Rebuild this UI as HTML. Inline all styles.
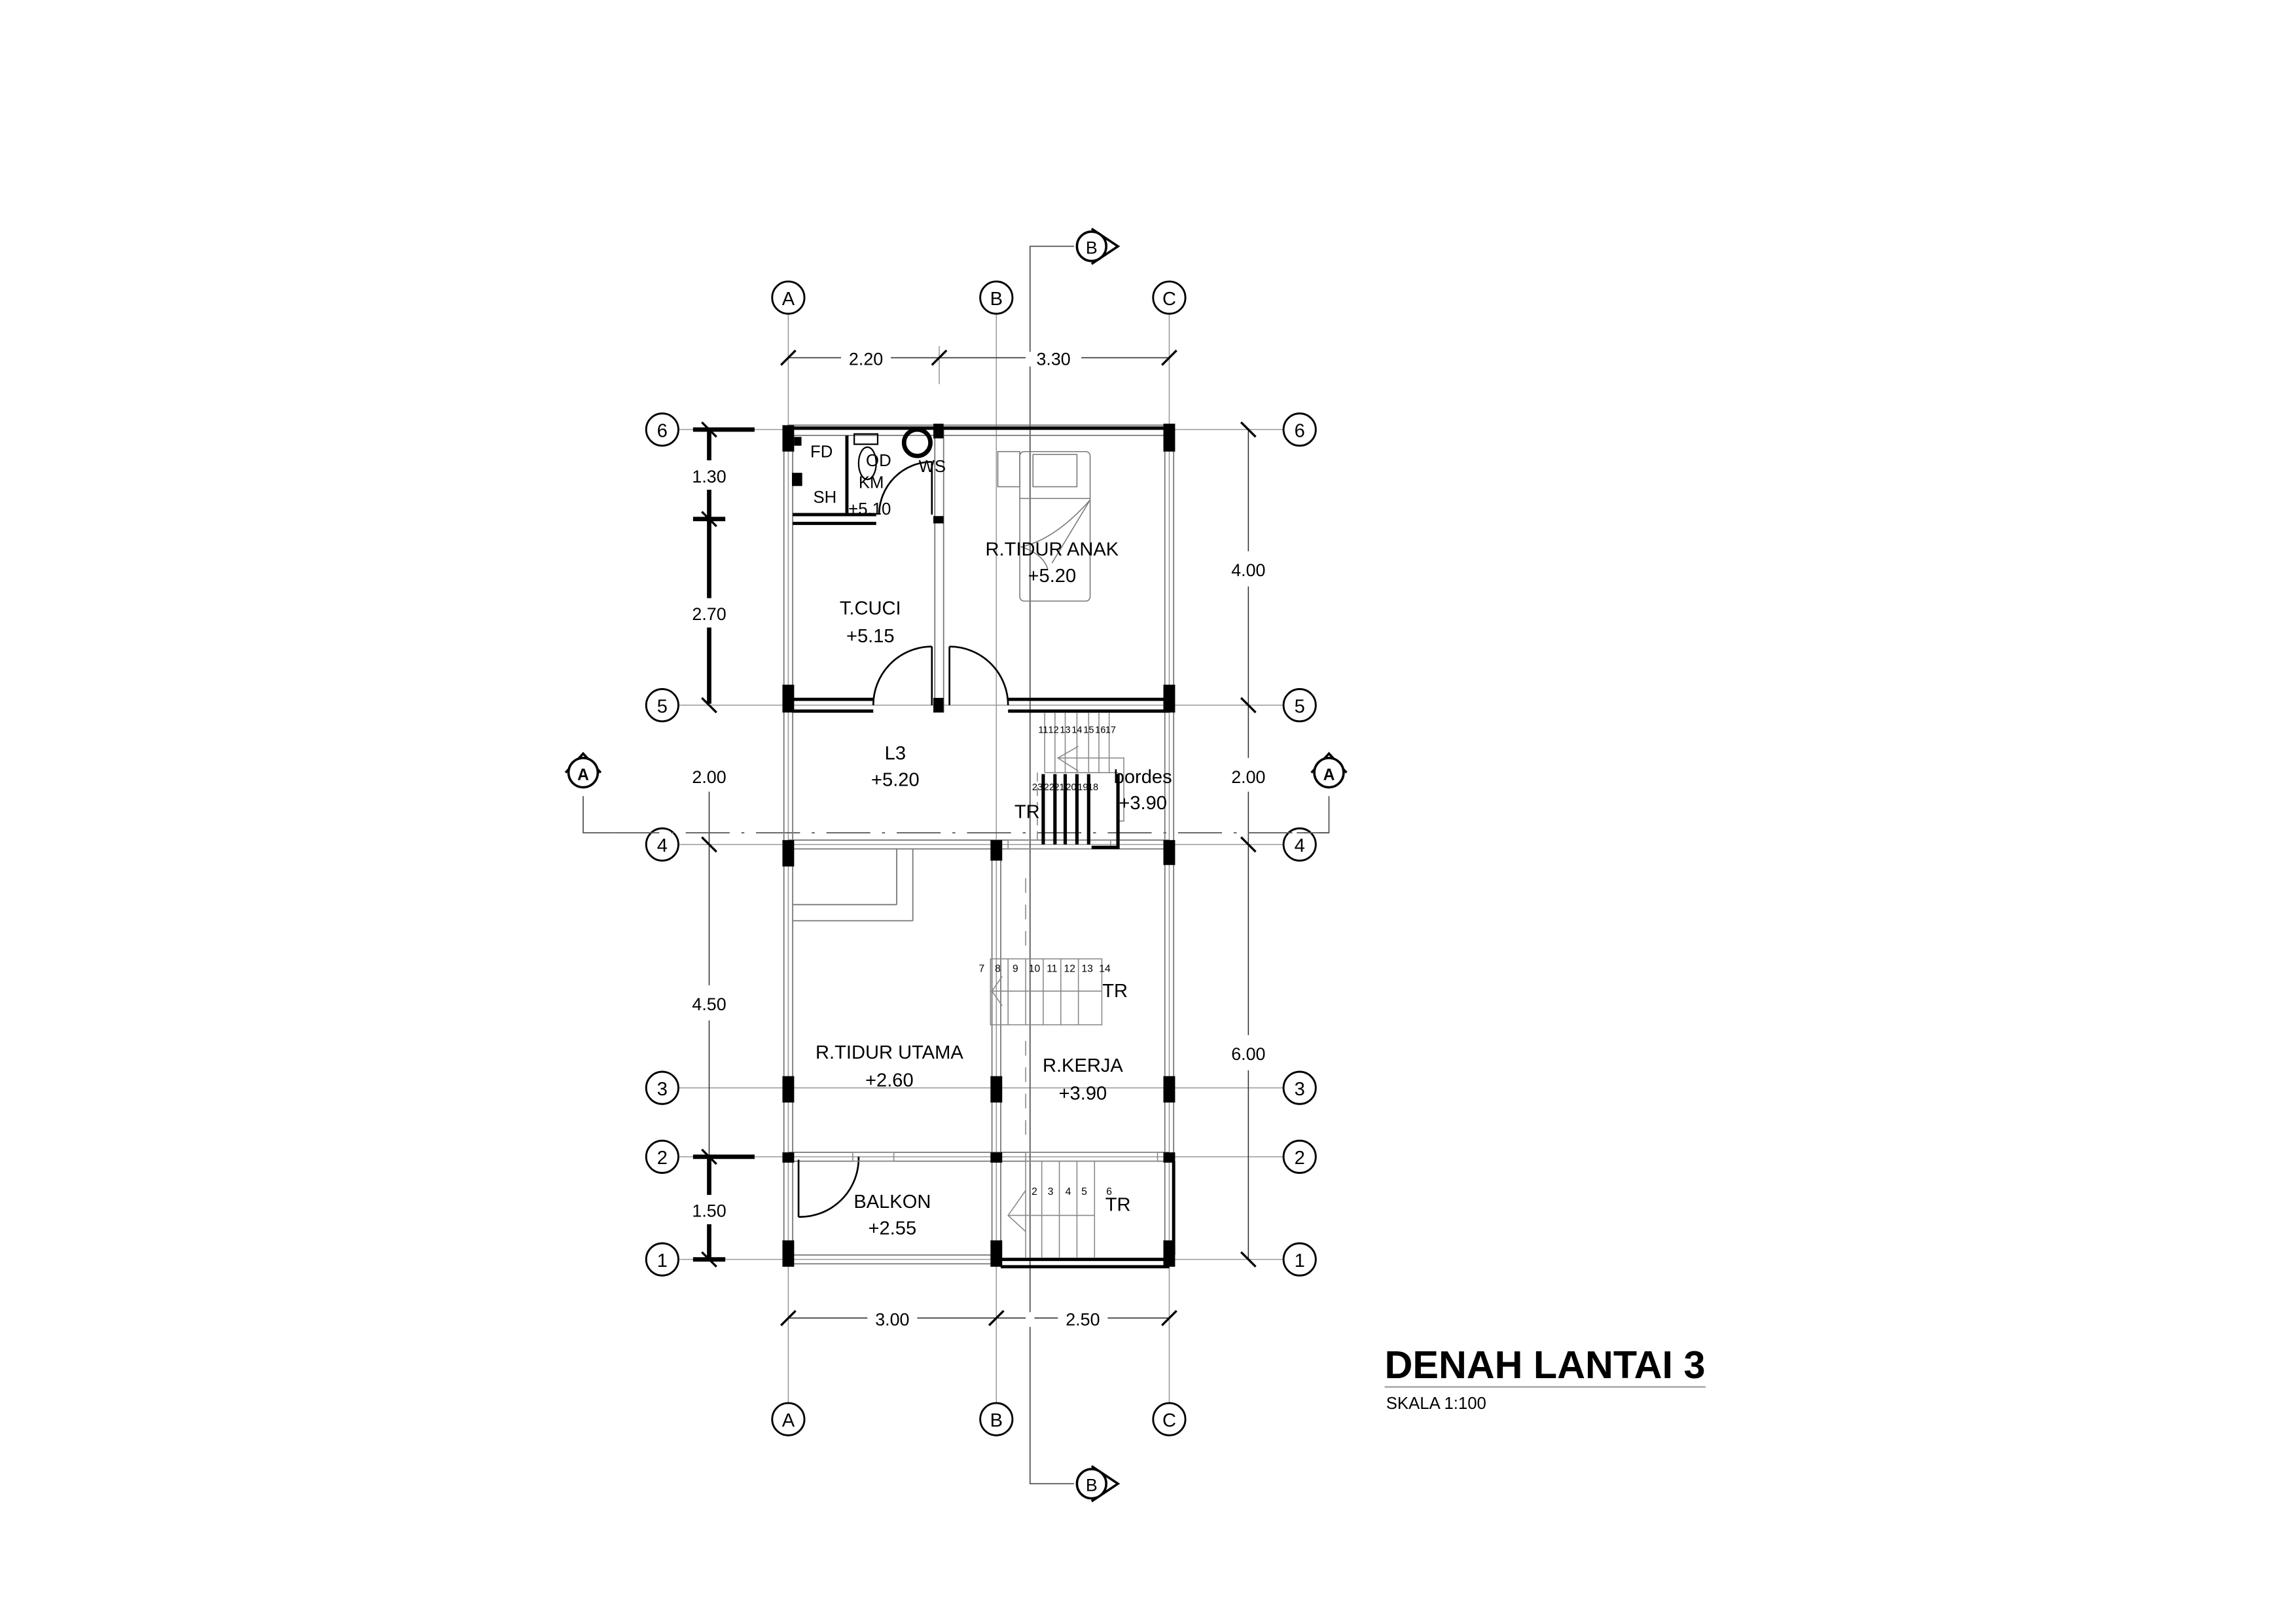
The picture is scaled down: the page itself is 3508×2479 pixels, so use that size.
<!DOCTYPE html>
<html><head><meta charset="utf-8"><style>
html,body{margin:0;padding:0;background:#fff;}
svg{display:block;}
text{font-family:"Liberation Sans",sans-serif;fill:#000;}
</style></head><body>
<svg width="3508" height="2479" viewBox="0 0 1567 1107" preserveAspectRatio="none" xmlns="http://www.w3.org/2000/svg">
<rect width="1567" height="1107" fill="#fff"/>
<g stroke="#999" stroke-width="0.7" fill="none">
<line x1="538" y1="214" x2="538" y2="957"/>
<line x1="680" y1="214" x2="680" y2="957"/>
<line x1="798" y1="214" x2="798" y2="957"/>
<line x1="463" y1="293" x2="876" y2="293"/>
<line x1="463" y1="481" x2="876" y2="481"/>
<line x1="463" y1="576" x2="876" y2="576"/>
<line x1="463" y1="742" x2="876" y2="742"/>
<line x1="463" y1="789" x2="876" y2="789"/>
<line x1="463" y1="859" x2="876" y2="859"/>
<line x1="641" y1="236" x2="641" y2="262"/>
</g>
<g stroke="#333" stroke-width="0.7" fill="none">
<line x1="538" y1="244" x2="574" y2="244"/><line x1="608" y1="244" x2="700" y2="244"/><line x1="738" y1="244" x2="798" y2="244"/>
<line x1="538" y1="899" x2="592" y2="899"/><line x1="626" y1="899" x2="722" y2="899"/><line x1="756" y1="899" x2="798" y2="899"/>
<line x1="484" y1="540" x2="484" y2="672"/><line x1="484" y1="696" x2="484" y2="789"/>
<line x1="852" y1="293" x2="852" y2="376"/><line x1="852" y1="400" x2="852" y2="517"/><line x1="852" y1="540" x2="852" y2="706"/><line x1="852" y1="730" x2="852" y2="859"/>
</g>
<g stroke="#000" stroke-width="3" fill="none">
<line x1="473" y1="293" x2="515" y2="293"/>
<line x1="484" y1="293" x2="484" y2="314"/><line x1="484" y1="334" x2="484" y2="408"/><line x1="484" y1="428" x2="484" y2="480"/>
<line x1="484" y1="789" x2="484" y2="815"/><line x1="484" y1="835" x2="484" y2="859"/>
<line x1="473" y1="789" x2="515" y2="789"/><line x1="473" y1="859" x2="495" y2="859"/>
<line x1="473" y1="354" x2="495" y2="354"/>
</g>
<g stroke="#000" stroke-width="1.5">
<line x1="533" y1="249" x2="543" y2="239"/><line x1="636" y1="249" x2="646" y2="239"/><line x1="793" y1="249" x2="803" y2="239"/>
<line x1="533" y1="904" x2="543" y2="894"/><line x1="675" y1="904" x2="685" y2="894"/><line x1="793" y1="904" x2="803" y2="894"/>
<line x1="479" y1="288" x2="489" y2="298"/><line x1="479" y1="349" x2="489" y2="359"/><line x1="479" y1="476" x2="489" y2="486"/><line x1="479" y1="571" x2="489" y2="581"/><line x1="479" y1="784" x2="489" y2="794"/><line x1="479" y1="854" x2="489" y2="864"/>
<line x1="847" y1="288" x2="857" y2="298"/><line x1="847" y1="476" x2="857" y2="486"/><line x1="847" y1="571" x2="857" y2="581"/><line x1="847" y1="854" x2="857" y2="864"/>
</g>
<g font-size="12" text-anchor="middle">
<text x="591" y="249">2.20</text><text x="719" y="249">3.30</text>
<text x="609" y="904">3.00</text><text x="739" y="904">2.50</text>
<text x="484" y="329">1.30</text><text x="484" y="423">2.70</text><text x="484" y="534">2.00</text><text x="484" y="689">4.50</text><text x="484" y="830">1.50</text>
<text x="852" y="393">4.00</text><text x="852" y="534">2.00</text><text x="852" y="723">6.00</text>
</g>
<g stroke="#000" stroke-width="1.3" fill="#fff">
<circle cx="538" cy="203" r="11"/><circle cx="680" cy="203" r="11"/><circle cx="798" cy="203" r="11"/>
<circle cx="538" cy="968" r="11"/><circle cx="680" cy="968" r="11"/><circle cx="798" cy="968" r="11"/>
<circle cx="452" cy="293" r="11"/><circle cx="452" cy="481" r="11"/><circle cx="452" cy="576" r="11"/><circle cx="452" cy="742" r="11"/><circle cx="452" cy="789" r="11"/><circle cx="452" cy="859" r="11"/>
<circle cx="887" cy="293" r="11"/><circle cx="887" cy="481" r="11"/><circle cx="887" cy="576" r="11"/><circle cx="887" cy="742" r="11"/><circle cx="887" cy="789" r="11"/><circle cx="887" cy="859" r="11"/>
</g>
<g font-size="13" text-anchor="middle">
<text x="538" y="208">A</text><text x="680" y="208">B</text><text x="798" y="208">C</text>
<text x="538" y="973">A</text><text x="680" y="973">B</text><text x="798" y="973">C</text>
<text x="452" y="298">6</text><text x="452" y="486">5</text><text x="452" y="581">4</text><text x="452" y="747">3</text><text x="452" y="794">2</text><text x="452" y="864">1</text>
<text x="887" y="298">6</text><text x="887" y="486">5</text><text x="887" y="581">4</text><text x="887" y="747">3</text><text x="887" y="794">2</text><text x="887" y="864">1</text>
</g>
<g stroke="#555" stroke-width="0.8" fill="none">
<polyline points="733,168 703,168 703,1012 733,1012"/>
</g>
<rect x="700" y="240" width="6" height="10" fill="#fff"/>
<rect x="700" y="895" width="6" height="10" fill="#fff"/>
<g stroke="#000" stroke-width="1.6" fill="#fff">
<polyline points="745,156 763,168 745,180" fill="none"/>
<circle cx="745" cy="168" r="10"/>
<polyline points="745,1000 763,1012 745,1024" fill="none"/>
<circle cx="745" cy="1012" r="10"/>
</g>
<text x="745" y="173" font-size="12" text-anchor="middle">B</text>
<text x="745" y="1017" font-size="12" text-anchor="middle">B</text>
<g stroke="#555" stroke-width="0.8" fill="none">
<polyline points="398,543 398,568 420,568"/>
<line x1="420" y1="568" x2="907" y2="568" stroke-dasharray="30 8 2 8"/>
<polyline points="885,568 907,568 907,543"/>
</g>
<g stroke="#000" stroke-width="1.6" fill="#fff">
<polyline points="386,527 398,514 410,527" fill="none"/><circle cx="398" cy="527" r="10"/>
<polyline points="895,527 907,514 919,527" fill="none"/><circle cx="907" cy="527" r="10"/>
</g>
<text x="398" y="532" font-size="11" font-weight="bold" text-anchor="middle">A</text>
<text x="907" y="532" font-size="11" font-weight="bold" text-anchor="middle">A</text>
<g stroke="#777" stroke-width="0.8" fill="none">
<line x1="538" y1="290" x2="798" y2="290"/><line x1="538" y1="297" x2="798" y2="297"/>
<line x1="535" y1="293" x2="535" y2="864"/><line x1="541" y1="293" x2="541" y2="864"/>
<line x1="795" y1="293" x2="795" y2="864"/><line x1="801" y1="293" x2="801" y2="864"/>
<line x1="638" y1="293" x2="638" y2="486"/><line x1="644" y1="293" x2="644" y2="486"/>
<line x1="677" y1="576" x2="677" y2="864"/><line x1="683" y1="576" x2="683" y2="864"/>
<line x1="538" y1="573" x2="798" y2="573"/><line x1="538" y1="579" x2="798" y2="579"/>
<line x1="538" y1="786" x2="798" y2="786"/><line x1="538" y1="792" x2="798" y2="792"/>
<line x1="538" y1="856" x2="677" y2="856"/><line x1="538" y1="862" x2="677" y2="862"/>
<line x1="541" y1="628" x2="623" y2="628"/><line x1="623" y1="579" x2="623" y2="628"/>
<line x1="541" y1="617" x2="612" y2="617"/><line x1="612" y1="579" x2="612" y2="617"/>
</g>
<g stroke="#000" stroke-width="2.2" fill="none">
<line x1="538" y1="292" x2="798" y2="292"/>
<line x1="541" y1="477" x2="596" y2="477"/><line x1="541" y1="485" x2="596" y2="485"/>
<line x1="688" y1="477" x2="798" y2="477"/><line x1="688" y1="485" x2="798" y2="485"/>
<line x1="541" y1="351" x2="598" y2="351"/><line x1="541" y1="357" x2="598" y2="357"/>
<line x1="683" y1="864" x2="798" y2="864"/><line x1="683" y1="859" x2="798" y2="859"/>
<line x1="801" y1="792" x2="801" y2="856"/>
<line x1="578" y1="297" x2="578" y2="351"/>
</g>
<g fill="#000">
<rect x="534" y="290" width="8" height="18"/><rect x="542" y="298" width="5" height="6"/>
<rect x="534" y="467" width="8" height="19"/><rect x="534" y="573" width="8" height="18"/><rect x="534" y="734" width="8" height="18"/><rect x="534" y="786" width="8" height="7"/><rect x="534" y="846" width="8" height="18"/>
<rect x="637" y="289" width="7" height="10"/><rect x="637" y="352" width="7" height="5"/><rect x="637" y="476" width="7" height="10"/>
<rect x="676" y="573" width="8" height="14"/><rect x="676" y="734" width="8" height="18"/><rect x="676" y="786" width="8" height="7"/><rect x="676" y="846" width="8" height="18"/>
<rect x="794" y="289" width="8" height="19"/><rect x="794" y="467" width="8" height="19"/><rect x="794" y="573" width="8" height="17"/><rect x="794" y="734" width="8" height="18"/><rect x="794" y="786" width="8" height="7"/><rect x="794" y="846" width="8" height="18"/>
</g>
<g stroke="#000" stroke-width="1.2" fill="none">
<path d="M596,481 A40,40 0 0 1 636,441"/><line x1="636" y1="441" x2="636" y2="481"/>
<path d="M688,481 A40,40 0 0 0 648,441"/><line x1="648" y1="441" x2="648" y2="481"/>
<path d="M600,351 A36,36 0 0 1 636,315"/><line x1="636" y1="315" x2="636" y2="351"/>
<path d="M545,830 A40,40 0 0 0 586,789"/><line x1="545" y1="791" x2="545" y2="830"/>
</g>
<g stroke="#888" stroke-width="0.7" fill="none">
<rect x="582" y="786" width="28" height="6"/><rect x="700" y="786" width="90" height="6"/>
<rect x="688" y="573" width="70" height="6"/>
</g>
<g stroke="#000" stroke-width="1" fill="none">
<rect x="583" y="296" width="16" height="7"/><ellipse cx="592" cy="316" rx="6" ry="11"/>
<circle cx="626" cy="302" r="9" stroke-width="3"/>
<rect x="541" y="323" width="6" height="8" fill="#000"/>
</g>
<g stroke="#777" stroke-width="0.7" fill="none">
<rect x="681" y="308" width="15" height="24"/>
<rect x="696" y="308" width="48" height="102" rx="3"/>
<rect x="705" y="310" width="30" height="22"/>
<line x1="696" y1="340" x2="744" y2="340"/>
<path d="M744,341 Q720,368 697,373 Q712,378 715,388"/>
<line x1="744" y1="341" x2="718" y2="384"/>
</g>
<g stroke="#888" stroke-width="0.7" fill="none">
<line x1="713" y1="486" x2="713" y2="527"/><line x1="720" y1="486" x2="720" y2="527"/><line x1="727" y1="486" x2="727" y2="527"/><line x1="735" y1="486" x2="735" y2="527"/><line x1="743" y1="486" x2="743" y2="527"/><line x1="750" y1="486" x2="750" y2="527"/><line x1="757" y1="486" x2="757" y2="527"/>
<line x1="713" y1="527" x2="763" y2="527"/>
<polyline points="736,509 722,517 736,526"/><polyline points="722,517 767,517 767,560 763,560"/>
<line x1="708" y1="527" x2="708" y2="576" stroke-dasharray="6 4"/>
</g>
<g stroke="#000" stroke-width="2.3" fill="none">
<line x1="712" y1="528" x2="712" y2="576"/><line x1="720" y1="528" x2="720" y2="576"/><line x1="727" y1="528" x2="727" y2="576"/><line x1="735" y1="528" x2="735" y2="576"/><line x1="743" y1="528" x2="743" y2="576"/>
<polyline points="763,528 763,578 745,578"/>
</g>
<g font-size="6.5" text-anchor="middle">
<text x="712" y="500">11</text><text x="719" y="500">12</text><text x="727" y="500">13</text><text x="735" y="500">14</text><text x="743" y="500">15</text><text x="751" y="500">16</text><text x="758" y="500">17</text>
<text x="708" y="539">23</text><text x="716" y="539">22</text><text x="723" y="539">21</text><text x="731" y="539">20</text><text x="739" y="539">19</text><text x="746" y="539">18</text>
</g>
<g stroke="#888" stroke-width="0.7" fill="none">
<rect x="676" y="654" width="76" height="45"/>
<line x1="688" y1="654" x2="688" y2="699"/><line x1="700" y1="654" x2="700" y2="699"/><line x1="712" y1="654" x2="712" y2="699"/><line x1="724" y1="654" x2="724" y2="699"/><line x1="736" y1="654" x2="736" y2="699"/>
<line x1="676" y1="676" x2="752" y2="676"/><polyline points="684,666 677,676 684,686"/>
<line x1="700" y1="599" x2="700" y2="645" stroke-dasharray="10 8"/><line x1="700" y1="710" x2="700" y2="780" stroke-dasharray="10 8"/>
</g>
<g font-size="7" text-anchor="middle">
<text x="670" y="663">7</text><text x="681" y="663">8</text><text x="693" y="663">9</text><text x="706" y="663">10</text><text x="718" y="663">11</text><text x="730" y="663">12</text><text x="742" y="663">13</text><text x="754" y="663">14</text>
</g>
<g stroke="#888" stroke-width="0.7" fill="none">
<line x1="700" y1="792" x2="700" y2="858"/><line x1="711" y1="792" x2="711" y2="858"/><line x1="723" y1="792" x2="723" y2="858"/><line x1="735" y1="792" x2="735" y2="858"/><line x1="747" y1="792" x2="747" y2="858"/>
<line x1="688" y1="829" x2="747" y2="829"/><polyline points="700,812 688,829 700,840"/>
</g>
<g font-size="7" text-anchor="middle">
<text x="706" y="815">2</text><text x="717" y="815">3</text><text x="729" y="815">4</text><text x="740" y="815">5</text><text x="757" y="815">6</text>
</g>
<g font-size="13" text-anchor="middle">
<text x="718" y="379">R.TIDUR ANAK</text><text x="718" y="397">+5.20</text>
<text x="594" y="419">T.CUCI</text><text x="594" y="438">+5.15</text>
<text x="611" y="518">L3</text><text x="611" y="536">+5.20</text>
<text x="607" y="722">R.TIDUR UTAMA</text><text x="607" y="741">+2.60</text>
<text x="739" y="731">R.KERJA</text><text x="739" y="750">+3.90</text>
<text x="609" y="824">BALKON</text><text x="609" y="842">+2.55</text>
<text x="701" y="558">TR</text><text x="761" y="680">TR</text><text x="763" y="826">TR</text>
<text x="780" y="534">bordes</text><text x="780" y="552">+3.90</text>
</g>
<g font-size="11.5">
<text x="553" y="312">FD</text><text x="555" y="343">SH</text><text x="586" y="333">KM</text><text x="591" y="318">OD</text><text x="627" y="322">WS</text><text x="579" y="351">+5.10</text>
</g>
<text x="945" y="940" font-size="26.5" font-weight="bold">DENAH LANTAI 3</text>
<line x1="945" y1="946" x2="1164" y2="946" stroke="#aaa" stroke-width="1.2"/>
<text x="946" y="961" font-size="11.5">SKALA 1:100</text>
</svg>
</body></html>
